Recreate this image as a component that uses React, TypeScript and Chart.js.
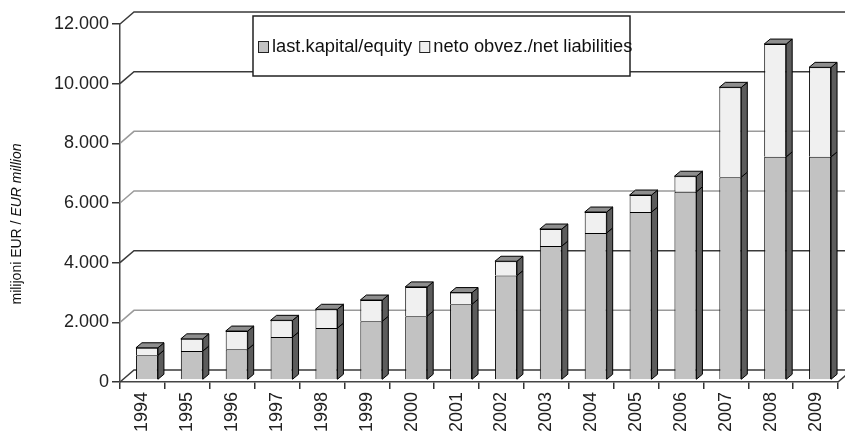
import React, { useEffect, useRef } from "react";
import { Chart, registerables } from "chart.js";

Chart.register(...registerables);

const years = ["1994", "1995", "1996", "1997", "1998", "1999", "2000", "2001", "2002", "2003", "2004", "2005", "2006", "2007", "2008", "2009"];
const equity = [830, 970, 1030, 1440, 1740, 1970, 2140, 2540, 3500, 4490, 4930, 5630, 6310, 6800, 7480, 7480];
const liabilities = [250, 410, 610, 560, 630, 710, 980, 390, 480, 570, 700, 570, 520, 3010, 3780, 3000];
const seriesLabels = ["last.kapital/equity", "neto obvez./net liabilities"];
const yMin = 0;
const yMax = 12000;
const yStep = 2000;
const axisTitleRegular = "milijoni EUR / ";
const axisTitleItalic = "EUR million";

const FONT = "'Liberation Sans', Arial, sans-serif";
const EQUITY_COLOR = "#c2c2c2";
const LIAB_COLOR = "#f0f0f0";
const SIDE_COLOR = "#5c5c5c";
const TOP_COLOR = "#8e8e8e";
const GRID_DX = 14;
const GRID_DY = 12;
const BAR_DX = 6;
const BAR_DY = 5;
const SHIFT_X = 4.5;
const SHIFT_Y = -2;

function fmt(v: number): string {
  return String(v).replace(/\B(?=(\d{3})+(?!\d))/g, ".");
}

function gridColor(v: number): string {
  return v === 2000 || v === 6000 || v === 8000 ? "#9a9a9a" : "#3a3a3a";
}

const depthPlugin = {
  id: "depth3d",
  beforeDatasetsDraw(chart: any) {
    const { ctx, chartArea, scales } = chart;
    const { left, right, bottom } = chartArea;
    const y = scales.y;
    ctx.save();
    ctx.lineWidth = 1.5;
    y.ticks.forEach((t: any) => {
      const py = y.getPixelForValue(t.value);
      ctx.beginPath();
      ctx.moveTo(left, py);
      ctx.lineTo(left + GRID_DX, py - GRID_DY);
      ctx.lineTo(right + GRID_DX, py - GRID_DY);
      ctx.strokeStyle = gridColor(t.value);
      ctx.stroke();
    });
    ctx.beginPath();
    ctx.moveTo(right, bottom);
    ctx.lineTo(right + GRID_DX, bottom - GRID_DY);
    ctx.strokeStyle = "#3a3a3a";
    ctx.stroke();
    ctx.restore();
    ctx.save();
    ctx.translate(SHIFT_X, SHIFT_Y);
  },
  afterDatasetsDraw(chart: any) {
    const ctx = chart.ctx;
    const metas = chart.data.datasets.map((_: any, i: number) => chart.getDatasetMeta(i));
    const n = chart.data.labels.length;
    ctx.lineWidth = 1;
    ctx.strokeStyle = "#000";
    for (let j = 0; j < n; j++) {
      metas.forEach((meta: any, di: number) => {
        const el = meta.data[j];
        if (!el) return;
        const { x, y, base, width } = el.getProps(["x", "y", "base", "width"], true);
        const xL = x - width / 2;
        const xR = x + width / 2;
        ctx.beginPath();
        ctx.moveTo(xR, y);
        ctx.lineTo(xR + BAR_DX, y - BAR_DY);
        ctx.lineTo(xR + BAR_DX, base - BAR_DY);
        ctx.lineTo(xR, base);
        ctx.closePath();
        ctx.fillStyle = SIDE_COLOR;
        ctx.fill();
        ctx.stroke();
        if (di === metas.length - 1) {
          ctx.beginPath();
          ctx.moveTo(xL, y);
          ctx.lineTo(xL + BAR_DX, y - BAR_DY);
          ctx.lineTo(xR + BAR_DX, y - BAR_DY);
          ctx.lineTo(xR, y);
          ctx.closePath();
          ctx.fillStyle = TOP_COLOR;
          ctx.fill();
          ctx.stroke();
        }
      });
    }
    ctx.restore();
  },
  afterDraw(chart: any) {
    const ctx = chart.ctx;
    ctx.save();
    const bx = 253, by = 16, bw = 377, bh = 60;
    ctx.fillStyle = "#fff";
    ctx.fillRect(bx, by, bw, bh);
    ctx.strokeStyle = "#222";
    ctx.lineWidth = 1.5;
    ctx.strokeRect(bx, by, bw, bh);
    ctx.font = `18.3px ${FONT}`;
    ctx.textBaseline = "middle";
    ctx.textAlign = "left";
    let cx = bx + 5;
    const cy = by + 30;
    chart.data.datasets.forEach((ds: any) => {
      ctx.fillStyle = ds.backgroundColor;
      ctx.fillRect(cx, cy - 5, 10, 11);
      ctx.strokeStyle = "#222";
      ctx.lineWidth = 1;
      ctx.strokeRect(cx + 0.5, cy - 5 + 0.5, 10, 11);
      ctx.fillStyle = "#111";
      ctx.fillText(ds.label, cx + 14, cy + 1);
      cx += 14 + ctx.measureText(ds.label).width + 7;
    });
    ctx.translate(17, 224);
    ctx.rotate(-Math.PI / 2);
    ctx.fillStyle = "#111";
    const fReg = `14px ${FONT}`;
    const fIt = `italic 14px ${FONT}`;
    ctx.font = fReg;
    const w1 = ctx.measureText(axisTitleRegular).width;
    ctx.font = fIt;
    const w2 = ctx.measureText(axisTitleItalic).width;
    const sx = -(w1 + w2) / 2;
    ctx.font = fReg;
    ctx.fillText(axisTitleRegular, sx, 0);
    ctx.font = fIt;
    ctx.fillText(axisTitleItalic, sx + w1, 0);
    ctx.restore();
  },
};

export default function App() {
  const ref = useRef<HTMLCanvasElement | null>(null);
  useEffect(() => {
    document.body.style.margin = "0";
    if (!ref.current) return;
    const chart = new Chart(ref.current, {
      type: "bar",
      data: {
        labels: years,
        datasets: [
          {
            label: seriesLabels[0],
            data: equity,
            backgroundColor: EQUITY_COLOR,
            borderColor: "#000",
            borderWidth: 1,
            barPercentage: 0.49,
            categoryPercentage: 1,
          },
          {
            label: seriesLabels[1],
            data: liabilities,
            backgroundColor: LIAB_COLOR,
            borderColor: "#000",
            borderWidth: 1,
            barPercentage: 0.49,
            categoryPercentage: 1,
          },
        ],
      },
      options: {
        responsive: false,
        animation: false,
        layout: { padding: { top: 24, right: 7, left: 0, bottom: 0 } },
        plugins: {
          legend: { display: false },
          tooltip: { enabled: false },
          title: { display: false },
        },
        scales: {
          x: {
            stacked: true,
            grid: { display: true, drawOnChartArea: false, tickLength: 7, color: "#333", lineWidth: 1.5, offset: true },
            border: { color: "#444", width: 1.5 },
            ticks: { maxRotation: 90, minRotation: 90, autoSkip: false, font: { size: 18, family: FONT }, color: "#222", padding: 3 },
            afterFit: (s: any) => { s.height = 57; },
          },
          y: {
            stacked: true,
            min: yMin,
            max: yMax,
            grid: { display: true, drawOnChartArea: false, tickLength: 8, color: "#333", lineWidth: 1.5 },
            border: { color: "#444", width: 1.5 },
            ticks: { stepSize: yStep, callback: (v: any) => fmt(Number(v)), font: { size: 18, family: FONT }, color: "#222", padding: 3 },
            afterFit: (s: any) => { s.width = 120; },
          },
        },
      },
      plugins: [depthPlugin],
    });
    return () => chart.destroy();
  }, []);
  return (
    <div style={{ width: 845, height: 439 }}>
      <canvas ref={ref} width={845} height={439} style={{ display: "block" }} />
    </div>
  );
}
